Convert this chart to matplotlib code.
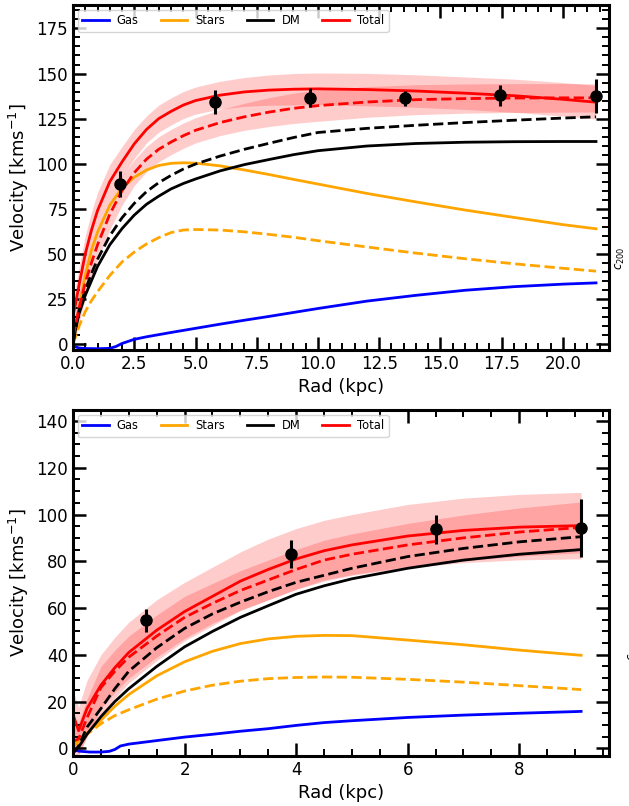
import matplotlib
matplotlib.use("Agg")
import matplotlib.pyplot as plt
from matplotlib.lines import Line2D
from matplotlib.ticker import MultipleLocator

# ── upper galaxy (kpc / km s^-1) ──────────────────────────────────────────
r_top = [0.0, 0.1, 0.25, 0.5, 0.75, 1.0, 1.5, 2.0, 2.5, 3.0, 3.5, 4.0, 4.5,
         5.0, 6.0, 7.0, 8.0, 9.0, 10.0, 12.0, 14.0, 16.0, 18.0, 20.0, 21.35]
stars_top = [0, 8, 20, 38, 52, 62, 77, 86.5, 92.5, 96.5, 99, 100.2, 100.5,
             100.3, 98.8, 96.5, 94, 91.3, 88.7, 83.5, 78.8, 74.3, 70.2, 66.2, 63.9]
stars_top_d = [0, 4, 10, 18, 24, 29, 38, 45.5, 51, 55.5, 59, 61.8, 63.2,
               63.5, 63.2, 62.2, 60.8, 59.2, 57.3, 53.8, 50.4, 47.3, 44.5, 42, 40.4]
dm_top = [0, 8, 17, 27, 35, 43, 55, 64, 71.5, 77.5, 82, 86, 89,
          91.5, 96, 99.5, 102.3, 105, 107.2, 109.8, 111.2, 111.9, 112.2, 112.3, 112.3]
dm_top_d = [0, 9, 19, 30, 39, 47, 60, 70, 78, 84.5, 89.5, 93.5, 97,
            99.8, 104.2, 108, 111.3, 114.5, 117.3, 119.6, 121.3, 122.8, 124.1, 125.3, 126]
tot_top = [16, 22, 33, 50, 63, 74, 90, 101, 111, 119, 125, 129, 132.5,
           135, 138, 139.8, 140.8, 141.3, 141.5, 141.1, 140.3, 139.1, 137.7, 135.7, 134.1]
tot_top_d = [4, 10, 20, 34, 45, 55, 72, 85, 95, 102.5, 108, 112, 115.5,
             118.5, 122.8, 126, 128.6, 130.7, 132.2, 134.2, 135.5, 136.1, 136.4, 136.5, 136.5]
tot_top_err = [8, 9, 10, 10, 10, 10, 9.5, 8.5, 8, 7.5, 7.5, 7.5, 7.5,
               7.5, 7.7, 8, 8.4, 8.7, 8.8, 9, 9, 9, 9.2, 9.3, 9.3]
tot_top_d_err = [6, 7, 8, 8.5, 8.5, 8.5, 8.5, 8, 7.2, 7, 7, 7, 7,
                 7, 7.2, 7.5, 8, 8.4, 8.7, 8.5, 8.3, 8.1, 8, 7.9, 7.8]

r_gas_top = [0.0, 0.1, 0.25, 0.5, 1.0, 1.5, 1.75, 2.0, 2.5, 3.0, 4.0, 5.0,
             6.0, 7.0, 8.0, 9.0, 10.0, 12.0, 14.0, 16.0, 18.0, 20.0, 21.35]
gas_top = [-0.9, -1.6, -2.2, -2.5, -2.6, -2.4, -1.4, 0.3, 2.6, 4.0, 6.4, 8.7,
           11.0, 13.2, 15.3, 17.5, 19.7, 23.8, 27.0, 29.8, 31.8, 33.2, 33.9]

obs_top_r = [1.92, 5.81, 9.69, 13.56, 17.44, 21.35]
obs_top_v = [88.7, 134.0, 136.7, 136.3, 138.0, 137.4]
obs_top_e = [7.0, 6.7, 5.2, 4.2, 5.9, 9.5]

# ── lower galaxy ──────────────────────────────────────────────────────────
r_bot = [0.0, 0.1, 0.25, 0.5, 0.75, 1.0, 1.5, 2.0, 2.5, 3.0, 3.5, 4.0, 4.5,
         5.0, 6.0, 7.0, 8.0, 9.0, 9.11]
stars_bot = [0.5, 3.5, 6.5, 12, 18, 23, 31, 37, 41.5, 44.8, 46.8, 47.9, 48.3,
             48.2, 46.3, 44.3, 42, 40, 39.8]
stars_bot_d = [0.5, 3, 6, 10.5, 14, 16.5, 21, 24.5, 27, 28.7, 29.8, 30.3, 30.5,
               30.4, 29.5, 28.3, 26.8, 25.3, 25.1]
dm_bot = [-2, 0.5, 6, 13.5, 20, 25.5, 35, 43.4, 50, 56, 61, 65.9, 69.5,
          72.5, 77, 80.5, 83, 84.8, 85]
dm_bot_d = [-2, 1, 9, 17, 25.5, 33, 43, 51.3, 57.5, 62.5, 67, 71, 74,
            77, 82, 85.5, 88.3, 90.3, 90.5]
tot_bot = [14.5, 7.5, 17, 27, 34.5, 41, 50.5, 58.5, 65, 71.5, 76.5, 81, 84.5,
           87, 90.8, 93.2, 94.6, 95.2, 95.2]
tot_bot_d = [3, 4, 13, 26, 33, 39, 48, 56, 62, 67.5, 72, 76.5, 80.5,
             83, 87, 90, 92.5, 94.3, 94.5]
tot_bot_err = [10, 10, 12, 13, 13, 13, 13, 12.5, 12.5, 12.5, 13, 13, 13,
               13, 13.5, 13.8, 14, 14.2, 14.2]
tot_bot_d_err = [7, 7, 8, 9, 9, 9, 9, 9, 8.5, 8.5, 8.5, 8.5, 8.5,
                 8.7, 9.2, 9.8, 10.3, 10.8, 10.9]

r_gas_bot = [0.0, 0.1, 0.3, 0.5, 0.65, 0.75, 0.85, 1.0, 1.5, 2.0, 2.5, 3.0,
             3.5, 4.0, 4.5, 5.0, 6.0, 7.0, 8.0, 9.0, 9.11]
gas_bot = [-0.5, -1.2, -1.6, -1.6, -1.3, -0.5, 1.0, 1.8, 3.3, 4.8, 6.0, 7.3,
           8.4, 9.8, 11.0, 11.8, 13.2, 14.2, 15.0, 15.7, 15.8]

obs_bot_r = [1.31, 3.91, 6.51, 9.11]
obs_bot_v = [54.8, 83.0, 93.7, 94.3]
obs_bot_e = [5.0, 6.0, 6.3, 12.3]


# ─────────────────────────────────────────────
def band(ax, r, v, e):
    lo = [a - b for a, b in zip(v, e)]
    hi = [a + b for a, b in zip(v, e)]
    ax.fill_between(r, lo, hi, color="red", alpha=0.2, lw=0)


def panel(ax, r, rg, gas, st, st_d, dm, dm_d, tot, tot_d, e, e_d,
          orr, ov, oe, xlim, ylim, xmaj, ymaj, ymin):
    band(ax, r, tot, e)
    band(ax, r, tot_d, e_d)
    ax.plot(rg, gas, color="blue", lw=2)
    ax.plot(r, st, color="orange", lw=2)
    ax.plot(r, st_d, color="orange", lw=2, ls="--")
    ax.plot(r, dm, color="black", lw=2)
    ax.plot(r, dm_d, color="black", lw=2, ls="--")
    ax.plot(r, tot, color="red", lw=2)
    ax.plot(r, tot_d, color="red", lw=2, ls="--")
    ax.errorbar(orr, ov, yerr=oe, fmt="o", color="black", ms=8,
                elinewidth=2.2, capsize=0, zorder=5)

    ax.set_xlim(*xlim)
    ax.set_ylim(*ylim)
    ax.xaxis.set_major_locator(MultipleLocator(xmaj))
    ax.xaxis.set_minor_locator(MultipleLocator(0.5))
    ax.yaxis.set_major_locator(MultipleLocator(ymaj))
    ax.yaxis.set_minor_locator(MultipleLocator(ymin))
    ax.tick_params(which="both", direction="in", top=True, right=True,
                   labelsize=12)
    ax.tick_params(which="major", length=9.5, width=1.8)
    ax.tick_params(which="minor", length=5, width=1.4)
    for s in ax.spines.values():
        s.set_linewidth(2.2)
    ax.set_xlabel("Rad (kpc)", fontsize=13)
    ax.set_ylabel(r"Velocity [kms$^{-1}$]", fontsize=13)

    handles = [Line2D([], [], color=c, lw=2) for c in
               ["blue", "orange", "black", "red"]]
    ax.legend(handles, ["Gas", "Stars", "DM", "Total"], loc="upper left",
              ncol=4, fontsize=8.3, handlelength=2.3, columnspacing=1.9,
              handletextpad=0.7, borderaxespad=0.4, framealpha=0.8)


fig = plt.figure(figsize=(6.29, 8.06), dpi=100)
ax1 = fig.add_axes([0.1161, 0.5658, 0.8521, 0.428])
ax2 = fig.add_axes([0.1161, 0.062, 0.8521, 0.4293])

panel(ax1, r_top, r_gas_top, gas_top, stars_top, stars_top_d, dm_top, dm_top_d,
      tot_top, tot_top_d, tot_top_err, tot_top_d_err,
      obs_top_r, obs_top_v, obs_top_e,
      (0, 21.88), (-3.3, 188), 2.5, 25, 5)
panel(ax2, r_bot, r_gas_bot, gas_bot, stars_bot, stars_bot_d, dm_bot, dm_bot_d,
      tot_bot, tot_bot_d, tot_bot_err, tot_bot_d_err,
      obs_bot_r, obs_bot_v, obs_bot_e,
      (0, 9.61), (-3.3, 144.7), 2, 20, 5)

# leftover colour-bar labels, clipped at the right edge as in the original
fig.text(0.986, 0.68, r"$c_{200}$", rotation=90, fontsize=8.5,
         ha="center", va="center")
fig.text(0.997, 0.195, r"$c_{200}$", rotation=90, fontsize=8.5,
         ha="left", va="center")

fig.savefig("out.png", dpi=100)
